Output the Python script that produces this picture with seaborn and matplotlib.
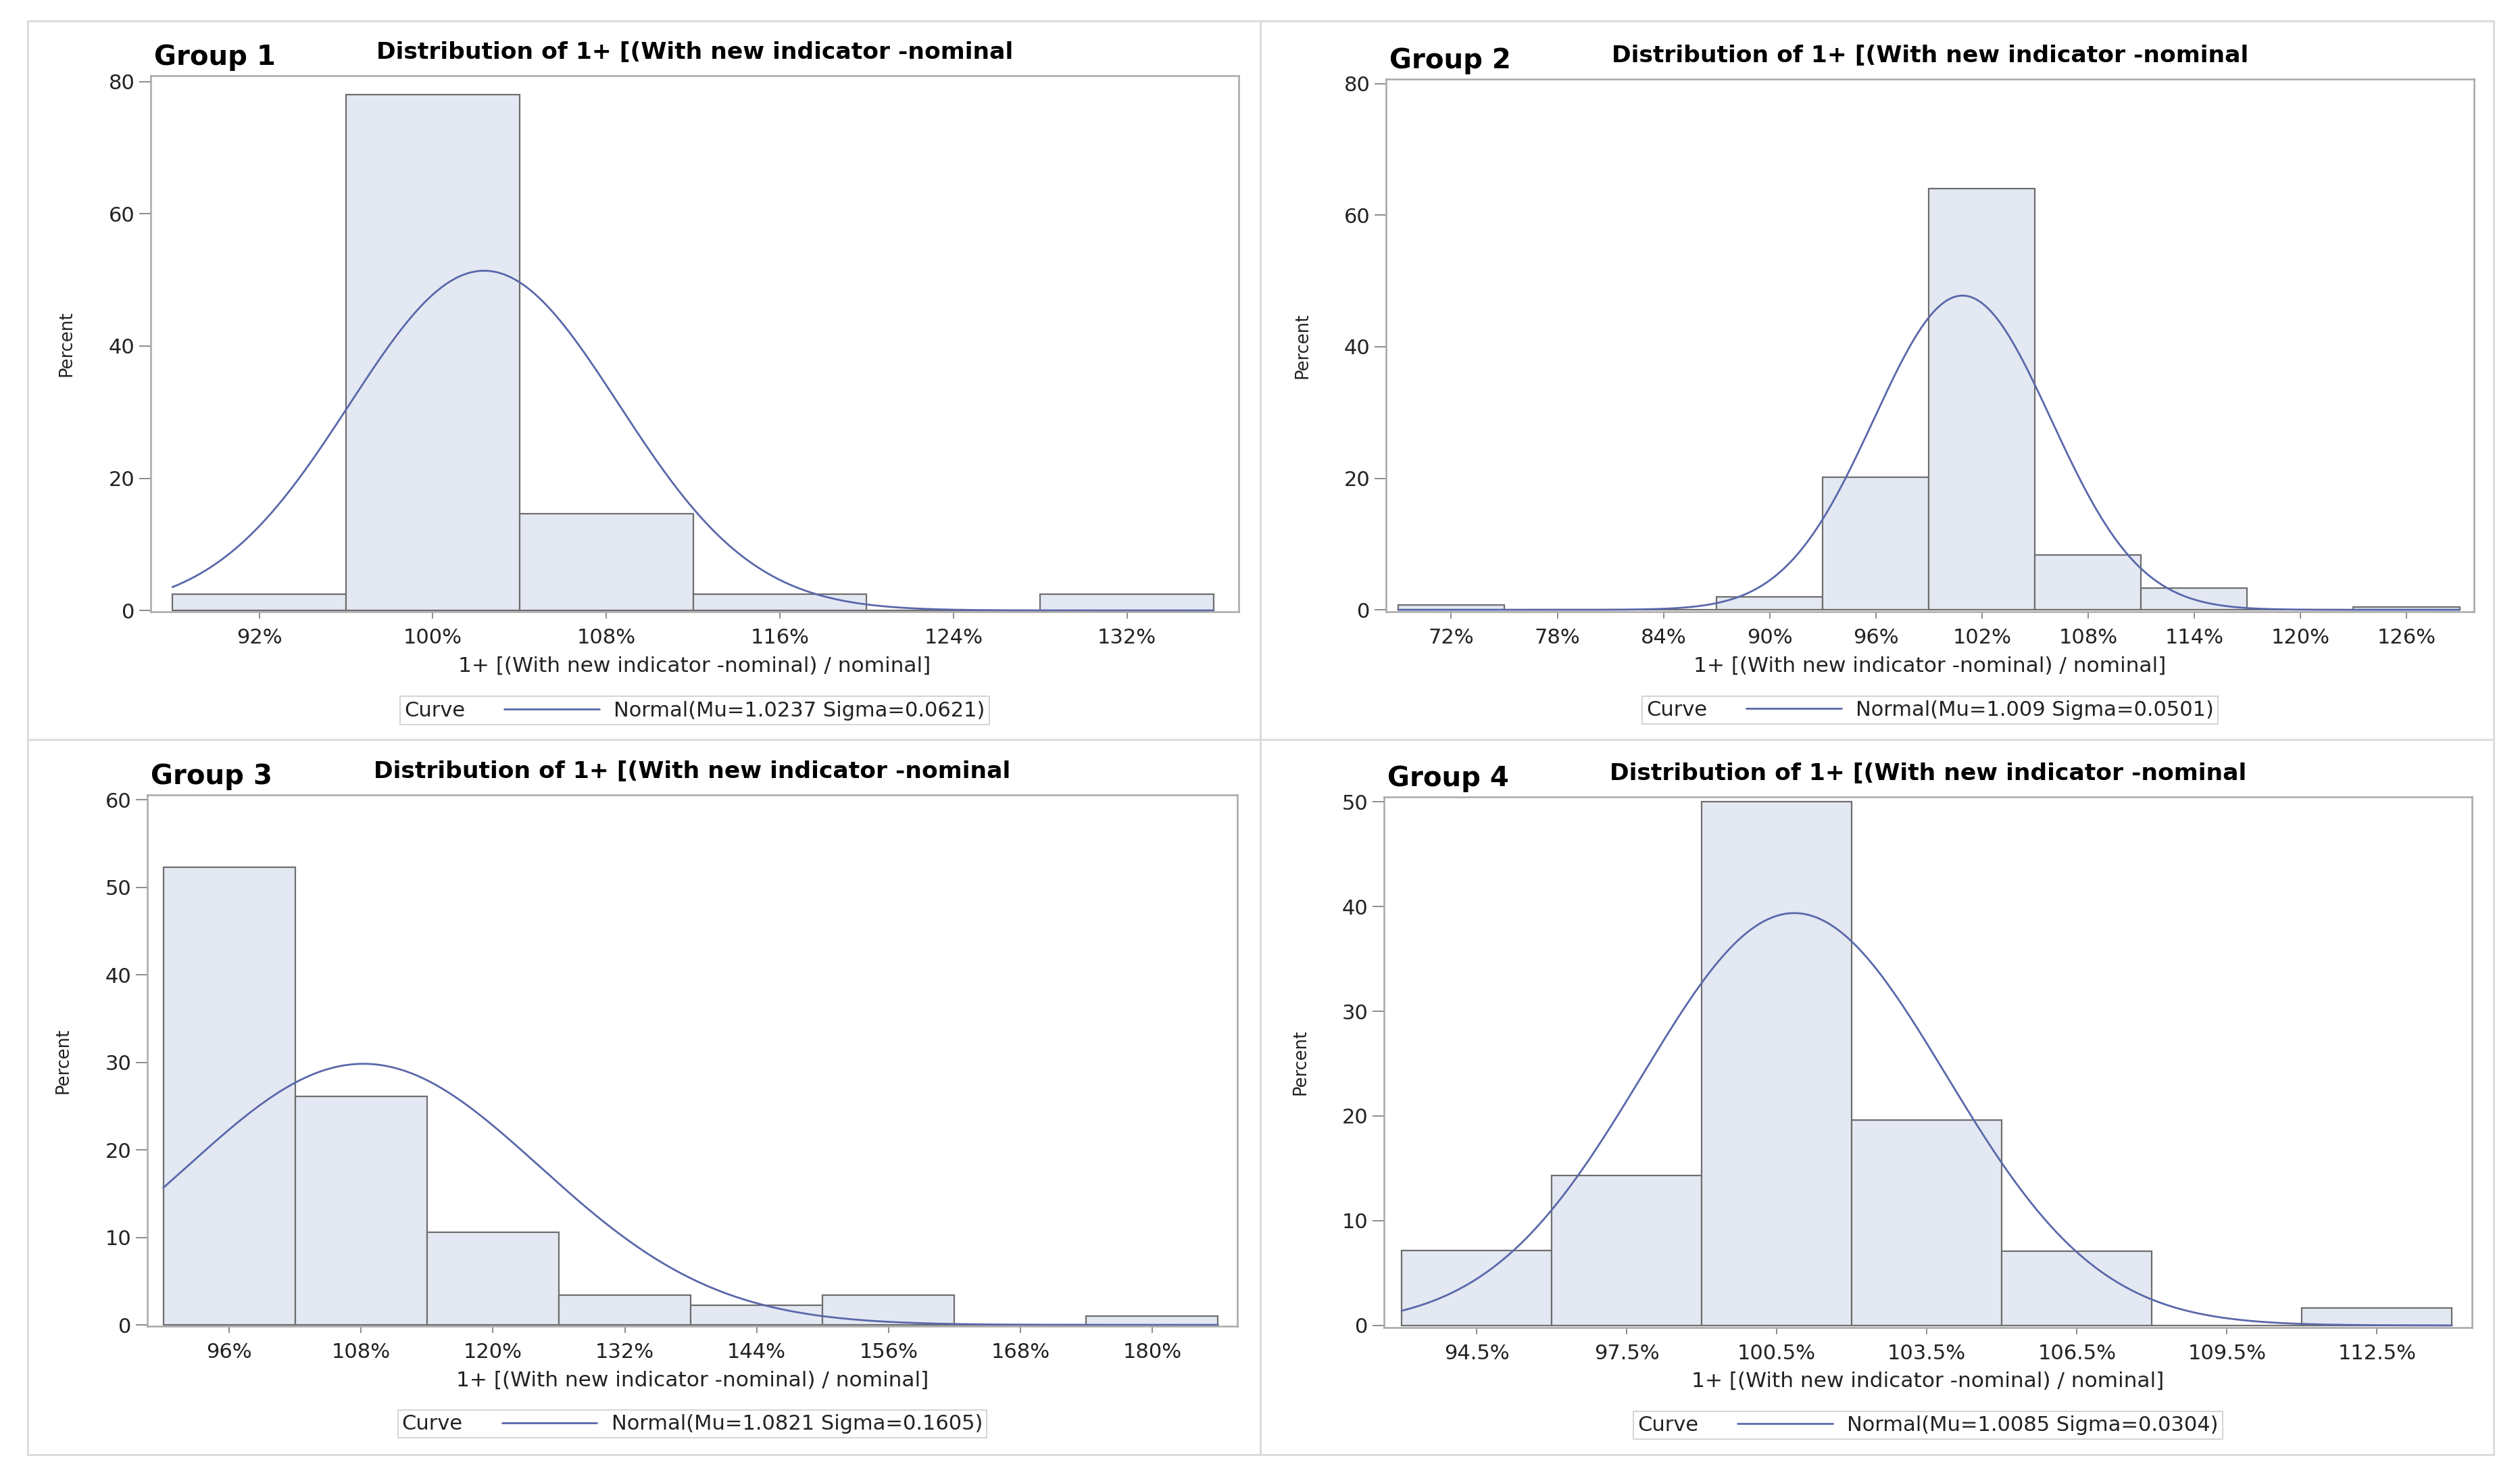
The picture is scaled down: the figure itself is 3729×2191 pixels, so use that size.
import numpy as np
import pandas as pd
import matplotlib
matplotlib.use("Agg")
import matplotlib.pyplot as plt
import seaborn as sns
from matplotlib.lines import Line2D
from matplotlib.patches import Rectangle
from matplotlib.offsetbox import HPacker

# ---- data ----
groups = ["Group 1", "Group 2", "Group 3", "Group 4"]
title = "Distribution of 1+ [(With new indicator -nominal"
xlabel = "1+ [(With new indicator -nominal) / nominal]"

g1_mid = [0.92, 1.00, 1.08, 1.16, 1.24, 1.32]
g1_pct = [2.44, 78.05, 14.63, 2.44, 0.0, 2.44]
g1_ticks = ["92%", "100%", "108%", "116%", "124%", "132%"]
g1_width = 0.08
g1_mu, g1_sigma = 1.0237, 0.0621

g2_mid = [0.72, 0.78, 0.84, 0.90, 0.96, 1.02, 1.08, 1.14, 1.20, 1.26]
g2_pct = [0.7, 0.0, 0.0, 2.0, 20.2, 64.0, 8.3, 3.3, 0.0, 0.4]
g2_ticks = ["72%", "78%", "84%", "90%", "96%", "102%", "108%", "114%", "120%", "126%"]
g2_width = 0.06
g2_mu, g2_sigma = 1.009, 0.0501

g3_mid = [0.96, 1.08, 1.20, 1.32, 1.44, 1.56, 1.68, 1.80]
g3_pct = [52.3, 26.1, 10.6, 3.4, 2.25, 3.4, 0.0, 1.0]
g3_ticks = ["96%", "108%", "120%", "132%", "144%", "156%", "168%", "180%"]
g3_width = 0.12
g3_mu, g3_sigma = 1.0821, 0.1605

g4_mid = [0.945, 0.975, 1.005, 1.035, 1.065, 1.095, 1.125]
g4_pct = [7.14, 14.29, 50.0, 19.6, 7.1, 0.0, 1.7]
g4_ticks = ["94.5%", "97.5%", "100.5%", "103.5%", "106.5%", "109.5%", "112.5%"]
g4_width = 0.03
g4_mu, g4_sigma = 1.0085, 0.0304

g1_yticks = [0, 20, 40, 60, 80]
g2_yticks = [0, 20, 40, 60, 80]
g3_yticks = [0, 10, 20, 30, 40, 50, 60]
g4_yticks = [0, 10, 20, 30, 40, 50]

panels = [
    dict(mid=g1_mid, pct=g1_pct, ticks=g1_ticks, w=g1_width, mu=g1_mu, sd=g1_sigma,
         yt=g1_yticks, xlim=(0.870, 1.3715), ylim=(-0.2, 80.9),
         pos=[0.0598, 0.5869, 0.4316, 0.3620]),
    dict(mid=g2_mid, pct=g2_pct, ticks=g2_ticks, w=g2_width, mu=g2_mu, sd=g2_sigma,
         yt=g2_yticks, xlim=(0.6832, 1.2982), ylim=(-0.3, 80.7),
         pos=[0.5499, 0.5869, 0.4316, 0.3597]),
    dict(mid=g3_mid, pct=g3_pct, ticks=g3_ticks, w=g3_width, mu=g3_mu, sd=g3_sigma,
         yt=g3_yticks, xlim=(0.8853, 1.8776), ylim=(-0.15, 60.55),
         pos=[0.0584, 0.1045, 0.4325, 0.3588]),
    dict(mid=g4_mid, pct=g4_pct, ticks=g4_ticks, w=g4_width, mu=g4_mu, sd=g4_sigma,
         yt=g4_yticks, xlim=(0.9265, 1.1440), ylim=(-0.2, 50.46),
         pos=[0.5491, 0.1036, 0.4316, 0.3583]),
]

fill = "#E3E8F2"
edge = "#6E6E6E"
curve = "#5A67AA"
frame = "#A8A8A8"

sns.set_theme(style="white")
plt.rcParams["font.family"] = ["DejaVu Sans"]

fig = plt.figure(figsize=(37.3, 21.91), dpi=100)
fig.patch.set_facecolor("white")

# light grey boxes around each of the four graphs
for x0, y0, w, h in [(0.011, 0.5007, 0.489, 0.4852), (0.5, 0.5007, 0.4893, 0.4852),
                     (0.011, 0.0178, 0.489, 0.4829), (0.5, 0.0178, 0.4893, 0.4829)]:
    fig.add_artist(Rectangle((x0, y0), w, h, transform=fig.transFigure,
                             fill=False, ec="#DCDCDC", lw=2.2))

for name, p in zip(groups, panels):
    ax = fig.add_axes(p["pos"])
    df = pd.DataFrame({"ratio": p["mid"], "percent": p["pct"]})
    mid = df["ratio"].to_numpy()
    edges = np.append(mid - p["w"] / 2, mid[-1] + p["w"] / 2)
    sns.histplot(data=df, x="ratio", weights="percent", bins=list(edges), stat="count",
                 color=fill, edgecolor=edge, linewidth=1.6, alpha=1, ax=ax)

    xs = np.linspace(edges[0], edges[-1], 500)
    ys = 100 * p["w"] * np.exp(-0.5 * ((xs - p["mu"]) / p["sd"]) ** 2) / (p["sd"] * np.sqrt(2 * np.pi))
    sns.lineplot(x=xs, y=ys, color=curve, lw=2.0, ax=ax)

    ax.set_xlim(*p["xlim"])
    ax.set_ylim(*p["ylim"])
    ax.set_xticks(mid)
    ax.set_xticklabels(p["ticks"])
    ax.set_yticks(p["yt"])
    ax.tick_params(axis="y", length=12, width=1.4, color="#8C8C8C", labelsize=22,
                   pad=5, labelcolor="#222222", left=True)
    ax.tick_params(axis="x", length=7, width=1.4, color="#8C8C8C", labelsize=22,
                   pad=10, labelcolor="#222222", bottom=True)
    for s in ax.spines.values():
        s.set_visible(True)
        s.set_color(frame)
        s.set_linewidth(1.8)

    ax.set_ylabel("Percent", fontsize=18.5, color="#222222")
    ax.yaxis.set_label_coords(-0.069, 0.5)
    ax.set_xlabel(xlabel, fontsize=22.5, color="#222222")
    ax.xaxis.set_label_coords(0.5, -0.083)

    ax.text(0.003, 1.02, name, transform=ax.transAxes, fontsize=29,
            fontweight="bold", ha="left", va="baseline", color="black")
    ax.text(0.5, 1.032, title, transform=ax.transAxes, fontsize=24.8,
            fontweight="bold", ha="center", va="baseline", color="black")

    handle = Line2D([], [], color=curve, lw=2.0)
    leg = ax.legend([handle], [f"Normal(Mu={p['mu']} Sigma={p['sd']})"], title="Curve",
                    loc="upper center", bbox_to_anchor=(0.5, -0.158), frameon=True,
                    fancybox=False, edgecolor="#C8C8C8", fontsize=22, title_fontsize=22,
                    handlelength=4.6, handletextpad=0.7, borderpad=0.2, borderaxespad=0)
    leg.get_frame().set_linewidth(1.4)
    for t in leg.get_texts() + [leg.get_title()]:
        t.set_color("#222222")
    # put the "Curve" title beside the entry, as SAS does
    fs = leg._fontsize
    box = HPacker(pad=leg.borderpad * fs, sep=1.9 * fs, align="center",
                  children=[leg._legend_title_box, leg._legend_handle_box])
    box.set_figure(fig)
    box.axes = ax
    leg._legend_box = box
    box.set_offset(leg._findoffset)

fig.savefig("out.png", dpi=100, facecolor="white")
